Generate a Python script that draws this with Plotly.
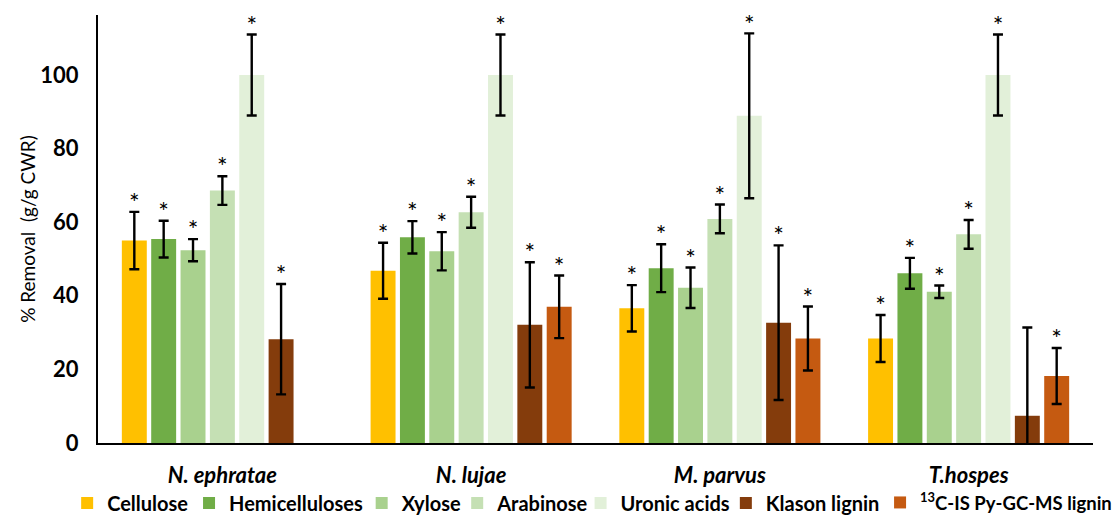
import plotly.graph_objects as go

species = ["<i>N. ephratae</i>", "<i>N. lujae</i>", "<i>M. parvus</i>", "<i>T.hospes</i>"]
series_names = ["Cellulose", "Hemicelluloses", "Xylose", "Arabinose", "Uronic acids",
                "Klason lignin", "<sup>13</sup>C-IS Py-GC-MS lignin"]
colors = ["#FFC000", "#70AD47", "#A9D18E", "#C5E0B4", "#E2F0D9", "#843C0C", "#C55A11"]

cellulose = [55.0, 46.8, 36.6, 28.4]
cellulose_err = [7.8, 7.6, 6.3, 6.4]
hemicelluloses = [55.4, 55.9, 47.5, 46.1]
hemicelluloses_err = [5.0, 4.4, 6.5, 4.2]
xylose = [52.4, 52.1, 42.2, 41.1]
xylose_err = [3.0, 5.2, 5.5, 1.7]
arabinose = [68.6, 62.7, 60.9, 56.7]
arabinose_err = [3.9, 4.2, 3.9, 3.9]
uronic = [100.0, 100.0, 88.9, 100.0]
uronic_err = [11.0, 11.0, 22.4, 11.0]
klason = [28.2, 32.1, 32.7, 7.4]
klason_err = [15.0, 17.0, 21.0, 24.0]
py_lignin = [None, 37.0, 28.4, 18.2]
py_lignin_err = [None, 8.5, 8.7, 7.6]

values = [cellulose, hemicelluloses, xylose, arabinose, uronic, klason, py_lignin]
errors = [cellulose_err, hemicelluloses_err, xylose_err, arabinose_err, uronic_err,
          klason_err, py_lignin_err]
# significance marks (asterisks)
signif = [
    [True, True, True, True],
    [True, True, True, True],
    [True, True, True, True],
    [True, True, True, True],
    [True, True, True, True],
    [True, True, True, False],
    [False, True, True, True],
]

FONT = "Lato"
Y_MAX = 116.3
STAR_DROP = 2.2  # style: pulls the asterisk label down toward the error-bar cap
# left edge of each legend entry (fraction of plot width) and its font size
legend_x = [-0.031, 0.0915, 0.265, 0.361, 0.485, 0.631, 0.786]
legend_size = [20, 20, 20, 20, 20, 20, 18.5]

fig = go.Figure()

for j, (name, vals, errs, col) in enumerate(zip(series_names, values, errors, colors)):
    lg = "legend" if j == 0 else f"legend{j + 1}"
    fig.add_trace(go.Bar(
        x=species, y=vals, name=name, offsetgroup=str(j), legend=lg,
        marker=dict(color=col, line=dict(width=0)),
        error_y=dict(type="data", array=[e if e is not None else 0 for e in errs],
                     visible=True, color="black", thickness=2.4, width=5),
    ))

for j, (vals, errs) in enumerate(zip(values, errors)):
    tops, txt = [], []
    for k in range(len(species)):
        if vals[k] is None or not signif[j][k]:
            tops.append(None)
            txt.append("")
        else:
            tops.append(vals[k] + errs[k] - STAR_DROP)
            txt.append("*")
    fig.add_trace(go.Bar(
        x=species, y=tops, offsetgroup=str(j), showlegend=False, hoverinfo="skip",
        marker=dict(color="rgba(0,0,0,0)", line=dict(width=0)),
        text=txt, textposition="outside", cliponaxis=False, constraintext="none",
        outsidetextfont=dict(family=FONT, size=25, color="black"),
        textfont=dict(family=FONT, size=25, color="black"),
    ))

layout_legends = {}
for j in range(len(series_names)):
    key = "legend" if j == 0 else f"legend{j + 1}"
    layout_legends[key] = dict(
        orientation="h", x=legend_x[j], xanchor="left", y=-0.14, yanchor="middle",
        font=dict(family=FONT, size=legend_size[j], color="black", weight="bold"),
        itemwidth=30, bgcolor="rgba(0,0,0,0)",
    )

# the page body adds an 8px offset, so the figure is sized to the visible window
fig.update_layout(
    width=1112, height=507,
    margin=dict(l=90, r=27, t=7, b=72, autoexpand=False),
    paper_bgcolor="white", plot_bgcolor="white",
    barmode="group", bargap=0.174, bargroupgap=0.15,
    font=dict(family=FONT, color="black"),
    xaxis=dict(showline=True, linecolor="black", linewidth=2, ticks="",
               tickfont=dict(family=FONT, size=22, color="black", weight="bold"),
               ticklabelstandoff=12, showgrid=False),
    yaxis=dict(range=[0, Y_MAX], showline=True, linecolor="black", linewidth=2,
               tickvals=[0, 20, 40, 60, 80, 100], ticks="", showgrid=False, zeroline=False,
               tickfont=dict(family=FONT, size=22, color="black", weight="bold"),
               ticklabelstandoff=13,
               title=dict(text="% Removal  (g/g CWR)", font=dict(family=FONT, size=19, color="black"),
                          standoff=0)),
    showlegend=True,
    **layout_legends,
)

fig.write_html("out.html")
